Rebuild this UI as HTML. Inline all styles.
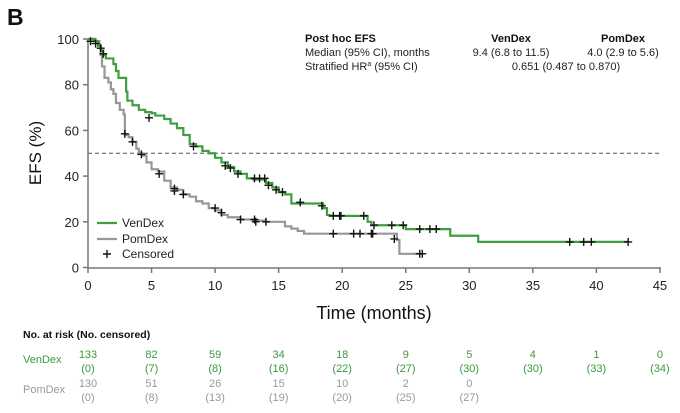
<!DOCTYPE html>
<html><head><meta charset="utf-8"><style>
body{margin:0;background:#fff;width:680px;height:408px;overflow:hidden;font-family:"Liberation Sans",sans-serif}
svg text{font-family:"Liberation Sans",sans-serif}
</style></head><body>
<svg id="s" width="680" height="408" xmlns="http://www.w3.org/2000/svg">
<text x="7" y="25" font-size="23" font-weight="bold" fill="#111">B</text>
<text x="305" y="42" font-size="11" font-weight="bold" fill="#111">Post hoc EFS</text>
<text x="305" y="56" font-size="11" fill="#222">Median (95% CI), months</text>
<text x="305" y="70" font-size="11" fill="#222">Stratified HR<tspan font-size="7" dy="-4">a</tspan><tspan dy="4"> (95% CI)</tspan></text>
<text x="511" y="42" font-size="11" font-weight="bold" fill="#111" text-anchor="middle">VenDex</text>
<text x="623" y="42" font-size="11" font-weight="bold" fill="#111" text-anchor="middle">PomDex</text>
<text x="511" y="56" font-size="11" fill="#222" text-anchor="middle">9.4 (6.8 to 11.5)</text>
<text x="623" y="56" font-size="11" fill="#222" text-anchor="middle">4.0 (2.9 to 5.6)</text>
<text x="566" y="70" font-size="11" fill="#222" text-anchor="middle">0.651 (0.487 to 0.870)</text>
<text transform="translate(41,153) rotate(-90)" font-size="17" fill="#111" text-anchor="middle">EFS (%)</text>
<text x="374" y="319" font-size="18" fill="#111" text-anchor="middle" transform="scale(1,1)">Time (months)</text>
<text x="23" y="338" font-size="10.5" font-weight="bold" fill="#111">No. at risk (No. censored)</text>
<text x="23" y="363" font-size="11" fill="#3a9a3a">VenDex</text>
<text x="23" y="393" font-size="11" fill="#999">PomDex</text>
<g id="g"></g>
</svg>
<script>
const g=document.getElementById('g');
const X=m=>88+m*12.71, Y=p=>267.5-p*2.285;
let h='';
h+=`<line x1="88" y1="${Y(50)}" x2="660" y2="${Y(50)}" stroke="#555" stroke-width="1" stroke-dasharray="4,3"/>`;
h+=`<line x1="88" y1="39" x2="88" y2="268" stroke="#777" stroke-width="1.5"/>`;
h+=`<line x1="88" y1="268" x2="661" y2="268" stroke="#777" stroke-width="1.5"/>`;
for(let v=0;v<=100;v+=20){h+=`<line x1="83" y1="${Y(v)}" x2="88" y2="${Y(v)}" stroke="#777" stroke-width="1.5"/><text x="79" y="${Y(v)+5}" font-size="13" fill="#222" text-anchor="end">${v}</text>`;}
for(let m=0;m<=45;m+=5){h+=`<line x1="${X(m)}" y1="268" x2="${X(m)}" y2="273" stroke="#777" stroke-width="1.5"/><text x="${X(m)}" y="290" font-size="13" fill="#222" text-anchor="middle">${m}</text>`;}
function step(pts){let d=`M${X(pts[0][0])},${Y(pts[0][1])}`;let py=pts[0][1];for(let i=1;i<pts.length;i++){d+=` H${X(pts[i][0])} V${Y(pts[i][1])}`;}return d;}
const ven=[[0,100],[0.5,99],[0.8,97],[1,95],[1.2,93],[1.4,91.5],[1.8,91.5],[2,89],[2.2,86],[2.4,83],[2.9,83],[3.0,77],[3.1,73],[3.5,71],[4,69],[4.5,68],[5,67.5],[5.3,66.5],[6,65],[6.5,63],[7,61],[7.5,58],[8,54],[8.5,53],[9,51],[9.5,50],[10,48],[10.5,46],[11,44],[11.5,42],[12,41],[12.5,39],[13,38.5],[14,37],[14.5,35],[15,33],[15.5,32],[16,28],[18.4,28],[18.5,26],[18.8,23],[19,22.6],[21.8,22.6],[22,20],[22.3,18.5],[24.9,18.5],[25,16.8],[28.4,16.8],[28.5,13.9],[30.6,13.9],[30.7,11.2],[42.5,11.2]];
const pom=[[0,100],[0.6,99],[0.9,97],[1.0,93],[1.1,88],[1.3,83],[1.6,81],[1.8,78],[2,76],[2.2,72],[2.5,69],[2.8,67],[2.9,58],[3.2,57],[3.5,55],[3.8,52],[4,50],[4.3,49],[4.6,46],[5,43],[5.5,42],[6,38],[6.5,35],[7,34],[7.5,32],[8,31],[8.5,29],[9,28],[9.5,26],[10,25],[10.5,23],[11,22],[12,21],[13,20.5],[14,20],[15.2,20],[15.5,18],[16,17],[16.5,16],[17,14.8],[24.2,14.8],[24.3,12],[24.5,6],[26.3,6]];
h+=`<path d="${step(pom)}" fill="none" stroke="#9a9597" stroke-width="2.2"/>`;
h+=`<path d="${step(ven)}" fill="none" stroke="#3f9e3f" stroke-width="2.2"/>`;
const cv=[[0.2,99],[0.6,98],[1.0,96],[1.2,93.5],[4.8,65.5],[8.3,53],[10.8,44.5],[11.2,43.5],[11.8,41],[13.1,39],[13.5,39],[13.9,39],[14.2,36],[14.8,34],[15.3,33],[16.7,28.5],[18.4,27],[19.3,22.6],[19.8,22.6],[19.9,22.6],[21.7,22.6],[22.5,18.5],[23.9,18.5],[24.8,18.5],[26.1,16.8],[26.9,16.8],[27.4,16.8],[37.9,11.2],[39,11.2],[39.6,11.2],[42.5,11.2]];
const cp=[[2.9,58.5],[3.5,55],[4.2,49.5],[5.6,41],[6.8,34.5],[6.8,33.5],[7.5,32],[10,26],[10.5,24],[12,21],[13.1,21],[13.2,20],[14,20],[19.3,14.8],[20.9,14.8],[21.4,14.8],[22.3,14.8],[22.4,14.8],[24.1,12.5],[26.1,6],[26.3,6]];
for(const [m,p] of cv.concat(cp)){const x=X(m),y=Y(p);h+=`<path d="M${x-4},${y}H${x+4}M${x},${y-4}V${y+4}" stroke="#111" stroke-width="1.4"/>`;}
h+=`<line x1="97" y1="223" x2="117" y2="223" stroke="#3f9e3f" stroke-width="2.2"/><text x="122" y="227" font-size="12" fill="#222">VenDex</text>`;
h+=`<line x1="97" y1="239" x2="117" y2="239" stroke="#9a9597" stroke-width="2.2"/><text x="122" y="243" font-size="12" fill="#222">PomDex</text>`;
h+=`<path d="M103,254H111M107,250V258" stroke="#111" stroke-width="1.4"/><text x="122" y="258" font-size="12" fill="#222">Censored</text>`;
const vn=[[133,0],[82,7],[59,8],[34,16],[18,22],[9,27],[5,30],[4,30],[1,33],[0,34]];
const pn=[[130,0],[51,8],[26,13],[15,19],[10,20],[2,25],[0,27]];
vn.forEach((v,i)=>{const x=X(i*5);h+=`<text x="${x}" y="358" font-size="11" fill="#3a9a3a" text-anchor="middle">${v[0]}</text><text x="${x}" y="372" font-size="11" fill="#3a9a3a" text-anchor="middle">(${v[1]})</text>`;});
pn.forEach((v,i)=>{const x=X(i*5);h+=`<text x="${x}" y="387" font-size="11" fill="#999" text-anchor="middle">${v[0]}</text><text x="${x}" y="401" font-size="11" fill="#999" text-anchor="middle">(${v[1]})</text>`;});
g.innerHTML=h;
</script>
</body></html>
